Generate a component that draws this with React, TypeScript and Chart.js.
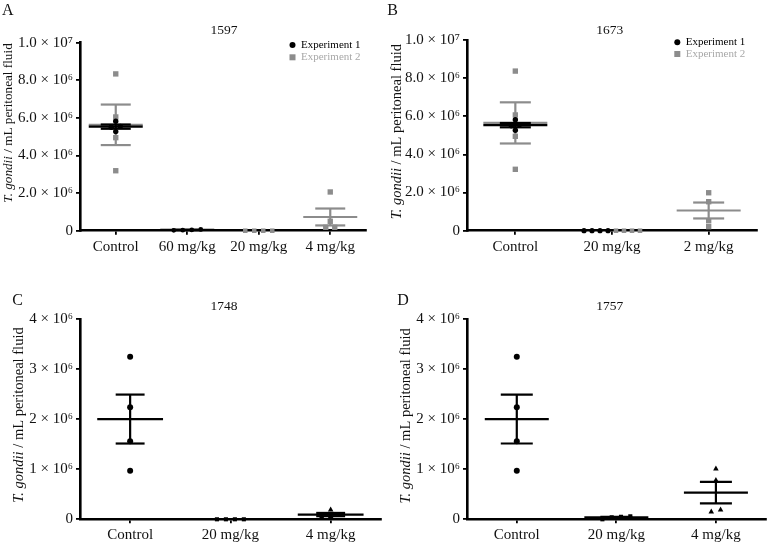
import React, { useEffect, useRef } from 'react';
import { Chart, registerables } from 'chart.js';

Chart.register(...registerables);

const FONT = '"Liberation Serif", "Times New Roman", serif';
const BLACK = '#000000';
const GRAY = '#8c8c8c';
const GRAY_TEXT = '#a8a8a8';

// ---------- Panel A : 1597 ----------
const catsA = ['Control', '60 mg/kg', '20 mg/kg', '4 mg/kg'];
const exp1A = [[5.82e6, 5.5e6, 5.27e6, 5.55e6], [0.04e6, 0.02e6, 0.03e6, 0.07e6], [], []];
const exp2A = [[8.34e6, 6.05e6, 4.95e6, 3.19e6], [], [0, 0, 0, 0], [2.06e6, 0.5e6, 0.18e6, 0.18e6]];
const yTicksA = [0, 2e6, 4e6, 6e6, 8e6, 1e7];
const yTickLabelsA = ['0', '2.0 × 10⁶', '4.0 × 10⁶', '6.0 × 10⁶', '8.0 × 10⁶', '1.0 × 10⁷'];

// ---------- Panel B : 1673 ----------
const catsB = ['Control', '20 mg/kg', '2 mg/kg'];
const exp1B = [[5.82e6, 5.5e6, 5.27e6, 5.55e6], [0, 0, 0, 0], []];
const exp2B = [[8.37e6, 6.07e6, 4.95e6, 3.22e6], [0, 0, 0, 0], [1.99e6, 1.52e6, 0.52e6, 0.21e6]];
const yTicksB = [0, 2e6, 4e6, 6e6, 8e6, 1e7];
const yTickLabelsB = ['0', '2.0 × 10⁶', '4.0 × 10⁶', '6.0 × 10⁶', '8.0 × 10⁶', '1.0 × 10⁷'];

// ---------- Panel C : 1748 ----------
const catsC = ['Control', '20 mg/kg', '4 mg/kg'];
const controlC = [3.25e6, 2.24e6, 1.56e6, 0.97e6];
const dose20C = [0, 0, 0, 0];
const dose4C = [0.19e6, 0.08e6, 0.06e6, 0.05e6];
const yTicksC = [0, 1e6, 2e6, 3e6, 4e6];
const yTickLabelsC = ['0', '1 × 10⁶', '2 × 10⁶', '3 × 10⁶', '4 × 10⁶'];

// ---------- Panel D : 1757 ----------
const catsD = ['Control', '20 mg/kg', '4 mg/kg'];
const controlD = [3.25e6, 2.24e6, 1.56e6, 0.97e6];
const dose20D = [0.05e6, 0, 0.04e6, 0.06e6];
const dose4D = [1.01e6, 0.78e6, 0.15e6, 0.19e6];
const yTicksD = [0, 1e6, 2e6, 3e6, 4e6];
const yTickLabelsD = ['0', '1 × 10⁶', '2 × 10⁶', '3 × 10⁶', '4 × 10⁶'];

const Y_TITLE_ITALIC = 'T. gondii';
const Y_TITLE_REST = ' / mL peritoneal fluid';

type Series = {
  name: string;
  color: string;
  textColor: string;
  styles: string[];
  radii: number[];
  values: number[][];
};

type Panel = {
  key: string;
  letter: string;
  title: string;
  box: { left: number; top: number; w: number; h: number };
  area: { l: number; t: number; r: number; b: number };
  cats: string[];
  yMax: number;
  yTicks: number[];
  yLabels: string[];
  series: Series[];
  letterPos: [number, number];
  titlePos: [number, number];
  yTitlePos: [number, number];
  yTitleSize: number;
  legend?: { markerX: number; textX: number; ys: number[] };
  meanHalf: number;
  capHalf: number;
  swarmPx: number;
};

const panels: Panel[] = [
  {
    key: 'A', letter: 'A', title: '1597',
    box: { left: 0, top: 0, w: 384, h: 270 },
    area: { l: 80, t: 42.7, r: 366, b: 230.7 },
    cats: catsA, yMax: 1e7, yTicks: yTicksA, yLabels: yTickLabelsA,
    series: [
      { name: 'Experiment 1', color: BLACK, textColor: BLACK, styles: ['circle', 'circle', 'circle', 'circle'], radii: [2.7, 2.4, 2.4, 2.4], values: exp1A },
      { name: 'Experiment 2', color: GRAY, textColor: GRAY_TEXT, styles: ['rect', 'rect', 'rect', 'rect'], radii: [3.8, 3.2, 3.2, 3.8], values: exp2A },
    ],
    letterPos: [2, 15], titlePos: [224, 30.7], yTitlePos: [8.5, 123], yTitleSize: 13.2,
    legend: { markerX: 292.5, textX: 301, ys: [45, 57.3] },
    meanHalf: 27, capHalf: 15, swarmPx: 9,
  },
  {
    key: 'B', letter: 'B', title: '1673',
    box: { left: 384, top: 0, w: 385, h: 270 },
    area: { l: 83, t: 40, r: 373, b: 230.7 },
    cats: catsB, yMax: 1e7, yTicks: yTicksB, yLabels: yTickLabelsB,
    series: [
      { name: 'Experiment 1', color: BLACK, textColor: BLACK, styles: ['circle', 'circle', 'circle'], radii: [2.7, 2.6, 2.6], values: exp1B },
      { name: 'Experiment 2', color: GRAY, textColor: GRAY_TEXT, styles: ['rect', 'rect', 'rect'], radii: [3.8, 3.2, 3.8], values: exp2B },
    ],
    letterPos: [3.3, 15], titlePos: [225.7, 30.7], yTitlePos: [13.5, 131.7], yTitleSize: 14.5,
    legend: { markerX: 293.3, textX: 301.7, ys: [42.3, 54] },
    meanHalf: 32, capHalf: 15.5, swarmPx: 8,
  },
  {
    key: 'C', letter: 'C', title: '1748',
    box: { left: 0, top: 270, w: 384, h: 272 },
    area: { l: 80, t: 49.3, r: 381.7, b: 249.3 },
    cats: catsC, yMax: 4e6, yTicks: yTicksC, yLabels: yTickLabelsC,
    series: [
      { name: 'Experiment 1', color: BLACK, textColor: BLACK, styles: ['circle', 'rect', 'triangle'], radii: [3, 2.9, 3.2], values: [controlC, dose20C, dose4C] },
    ],
    letterPos: [12.3, 35], titlePos: [224, 36], yTitlePos: [19, 145], yTitleSize: 14.5,
    meanHalf: 33, capHalf: 14.5, swarmPx: 9,
  },
  {
    key: 'D', letter: 'D', title: '1757',
    box: { left: 384, top: 270, w: 385, h: 272 },
    area: { l: 83, t: 49.3, r: 381.7, b: 249.3 },
    cats: catsD, yMax: 4e6, yTicks: yTicksD, yLabels: yTickLabelsD,
    series: [
      { name: 'Experiment 1', color: BLACK, textColor: BLACK, styles: ['circle', 'rect', 'triangle'], radii: [3, 2.9, 3.2], values: [controlD, dose20D, dose4D] },
    ],
    letterPos: [13.3, 35], titlePos: [225.7, 36], yTitlePos: [22.5, 145.8], yTitleSize: 14.5,
    meanHalf: 32, capHalf: 16, swarmPx: 9.3,
  },
];

function buildDatasets(p: Panel) {
  const bandPx = (p.area.r - p.area.l) / p.cats.length;
  const pxY = (p.area.b - p.area.t) / p.yMax;
  const offsets: number[][][] = p.series.map((s) => s.values.map((v) => v.map(() => 0)));

  // simple column scatter: points at (nearly) the same height are spread side by side
  p.cats.forEach((_, g) => {
    const pts: { s: number; i: number; v: number }[] = [];
    p.series.forEach((s, si) => (s.values[g] || []).forEach((v, i) => pts.push({ s: si, i, v })));
    pts.sort((a, b) => a.v - b.v);
    let k = 0;
    while (k < pts.length) {
      let e = k + 1;
      while (e < pts.length && (pts[e].v - pts[k].v) * pxY <= 4) e++;
      const m = e - k;
      for (let j = k; j < e; j++) {
        offsets[pts[j].s][g][pts[j].i] = ((j - k) - (m - 1) / 2) * p.swarmPx / bandPx;
      }
      k = e;
    }
  });

  const ds: any[] = [];
  p.series.forEach((s, si) => {
    const base = (si + 1) * 10;
    s.values.forEach((vals, g) => {
      if (!vals.length) return;
      ds.push({
        label: s.name,
        data: vals.map((v, i) => ({ x: g + offsets[si][g][i], y: v })),
        pointStyle: s.styles[g],
        pointRadius: s.radii[g],
        pointHoverRadius: s.radii[g],
        backgroundColor: s.color,
        borderColor: s.color,
        borderWidth: 0,
        showLine: false,
        clip: false,
        order: base + 1,
      });
      const n = vals.length;
      const mean = vals.reduce((a, b) => a + b, 0) / n;
      if (mean === 0) return;
      const sd = Math.sqrt(vals.reduce((a, b) => a + (b - mean) ** 2, 0) / (n - 1));
      const sem = sd / Math.sqrt(n);
      const mh = p.meanHalf / bandPx;
      const ch = p.capHalf / bandPx;
      const segs = [
        [g - mh, mean, g + mh, mean],
        [g - ch, mean + sem, g + ch, mean + sem],
        [g - ch, mean - sem, g + ch, mean - sem],
        [g, mean - sem, g, mean + sem],
      ];
      segs.forEach(([x1, y1, x2, y2]) =>
        ds.push({
          label: 'Mean ± SEM',
          data: [{ x: x1, y: y1 }, { x: x2, y: y2 }],
          showLine: true,
          pointRadius: 0,
          pointHoverRadius: 0,
          borderColor: s.color,
          backgroundColor: s.color,
          borderWidth: 2.2,
          clip: false,
          order: base,
        })
      );
    });
  });
  return ds;
}

function annotations(p: Panel) {
  return {
    id: 'annot' + p.key,
    afterDraw(chart: any) {
      const ctx = chart.ctx as CanvasRenderingContext2D;
      ctx.save();
      ctx.fillStyle = '#111';
      // panel letter
      ctx.font = `16px ${FONT}`;
      ctx.textAlign = 'left';
      ctx.textBaseline = 'alphabetic';
      ctx.fillText(p.letter, p.letterPos[0], p.letterPos[1]);
      // title
      ctx.font = `13.5px ${FONT}`;
      ctx.textAlign = 'center';
      ctx.textBaseline = 'middle';
      ctx.fillText(p.title, p.titlePos[0], p.titlePos[1]);
      // y-axis title with italic species name
      const fi = `italic ${p.yTitleSize}px ${FONT}`;
      const fn = `${p.yTitleSize}px ${FONT}`;
      ctx.font = fi;
      const w1 = ctx.measureText(Y_TITLE_ITALIC).width;
      ctx.font = fn;
      const w2 = ctx.measureText(Y_TITLE_REST).width;
      ctx.translate(p.yTitlePos[0], p.yTitlePos[1]);
      ctx.rotate(-Math.PI / 2);
      ctx.textAlign = 'left';
      ctx.textBaseline = 'middle';
      const x0 = -(w1 + w2) / 2;
      ctx.font = fi;
      ctx.fillText(Y_TITLE_ITALIC, x0, 0);
      ctx.font = fn;
      ctx.fillText(Y_TITLE_REST, x0 + w1, 0);
      ctx.setTransform(1, 0, 0, 1, 0, 0);
      // legend
      if (p.legend) {
        const lg = p.legend;
        ctx.font = `11px ${FONT}`;
        ctx.textAlign = 'left';
        ctx.textBaseline = 'middle';
        p.series.forEach((s, i) => {
          const y = lg.ys[i];
          ctx.fillStyle = s.color;
          if (s.styles[0] === 'circle') {
            ctx.beginPath();
            ctx.arc(lg.markerX, y, 3, 0, Math.PI * 2);
            ctx.fill();
          } else {
            ctx.fillRect(lg.markerX - 3, y - 3, 6, 6);
          }
          ctx.fillStyle = s.textColor;
          ctx.fillText(s.name, lg.textX, y);
        });
      }
      ctx.restore();
    },
  };
}

function PanelChart({ p }: { p: Panel }) {
  const ref = useRef<HTMLCanvasElement | null>(null);
  useEffect(() => {
    if (!ref.current) return;
    const n = p.cats.length;
    const tickFont = { family: FONT, size: 15 };
    const chart = new Chart(ref.current, {
      type: 'scatter',
      data: { datasets: buildDatasets(p) },
      options: {
        animation: false,
        responsive: false,
        devicePixelRatio: 1,
        layout: { padding: { left: 0, top: p.area.t, right: p.box.w - p.area.r, bottom: 0 } },
        plugins: { legend: { display: false }, title: { display: false }, tooltip: { enabled: false } },
        events: [],
        scales: {
          x: {
            type: 'linear',
            min: -0.5,
            max: n - 0.5,
            afterBuildTicks: (s: any) => {
              s.ticks = p.cats.map((_, i) => ({ value: i }));
            },
            afterFit: (s: any) => {
              s.height = p.box.h - p.area.b;
            },
            ticks: {
              callback: (v: any) => p.cats[Math.round(Number(v))] ?? '',
              font: tickFont,
              color: '#111',
              padding: 3,
              maxRotation: 0,
              autoSkip: false,
            },
            grid: { display: true, drawOnChartArea: false, drawTicks: true, tickLength: 4, color: '#000', lineWidth: 1.8 },
            border: { display: true, color: '#000', width: 2.6 },
          },
          y: {
            type: 'linear',
            min: 0,
            max: p.yMax,
            afterBuildTicks: (s: any) => {
              s.ticks = p.yTicks.map((v) => ({ value: v }));
            },
            afterFit: (s: any) => {
              s.width = p.area.l;
            },
            ticks: {
              callback: (_v: any, i: number) => p.yLabels[i] ?? '',
              font: tickFont,
              color: '#111',
              padding: 3,
              autoSkip: false,
            },
            grid: { display: true, drawOnChartArea: false, drawTicks: true, tickLength: 4, color: '#000', lineWidth: 1.8 },
            border: { display: true, color: '#000', width: 2.6 },
          },
        },
      } as any,
      plugins: [annotations(p)],
    });
    return () => chart.destroy();
  }, [p]);
  return (
    <canvas
      ref={ref}
      width={p.box.w}
      height={p.box.h}
      style={{ position: 'absolute', left: p.box.left, top: p.box.top, width: p.box.w, height: p.box.h }}
    />
  );
}

export default function App() {
  return (
    <div style={{ position: 'absolute', left: 0, top: 0, width: 769, height: 542, background: '#fff' }}>
      {panels.map((p) => (
        <PanelChart key={p.key} p={p} />
      ))}
    </div>
  );
}
